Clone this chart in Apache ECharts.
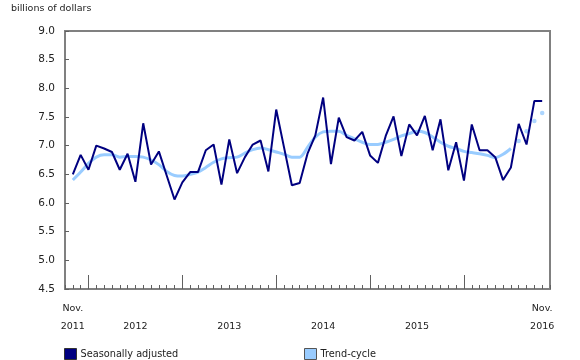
<!DOCTYPE html>
<html>
<head>
<meta charset="utf-8">
<script src="https://cdn.jsdelivr.net/npm/echarts@6/dist/echarts.min.js"></script>
<style>html,body{margin:0;padding:0;background:#fff}#c{width:580px;height:360px}</style>
</head>
<body>
<div id="c"></div>
<script>
// Monthly categories, Nov. 2011 to Nov. 2016
const months = [];
for (let y = 2011, m = 11; months.length < 61; m++) {
  if (m > 12) { m = 1; y++; }
  months.push(y + '-' + String(m).padStart(2, '0'));
}
// Seasonally adjusted (billions of dollars)
const seasonallyAdjusted = [
  6.50, 6.84, 6.58, 7.00, 6.95, 6.89, 6.58, 6.86, 6.37, 7.39, 6.67, 6.90, 6.48, 6.06,
  6.36, 6.54, 6.54, 6.92, 7.02, 6.32, 7.11, 6.52, 6.80, 7.02, 7.09, 6.55,
  7.63, 6.97, 6.31, 6.35, 6.86, 7.18, 7.84, 6.68, 7.49, 7.15, 7.09, 7.24,
  6.83, 6.70, 7.17, 7.51, 6.82, 7.37, 7.18, 7.52, 6.92, 7.46, 6.57, 7.06,
  6.39, 7.37, 6.92, 6.92, 6.80, 6.40, 6.62, 7.38, 7.02, 7.78, 7.78
];
// Trend-cycle (billions of dollars); the last 4 months are shown as dots
const trendCycle = [
  6.40, 6.54, 6.69, 6.80, 6.84, 6.84, 6.80, 6.81, 6.81, 6.80, 6.75, 6.67, 6.55, 6.48,
  6.47, 6.50, 6.54, 6.62, 6.71, 6.77, 6.79, 6.80, 6.87, 6.93, 6.96, 6.93,
  6.89, 6.85, 6.80, 6.80, 6.97, 7.15, 7.24, 7.25, 7.25, 7.18, 7.12, 7.06,
  7.02, 7.02, 7.06, 7.11, 7.17, 7.21, 7.25, 7.23, 7.15, 7.06, 6.99, 6.95,
  6.90, 6.88, 6.86, 6.83, 6.79, 6.85, 6.95, 7.08, 7.25, 7.43, 7.57
];
const preliminaryCount = 4;
// Tick labels on the time axis
const tickLabels = {
  '2011-11': 'Nov.\n2011', '2012-07': '\n2012', '2013-07': '\n2013',
  '2014-07': '\n2014', '2015-07': '\n2015', '2016-11': 'Nov.\n2016'
};
const yTicks = { min: 4.5, max: 9.0, step: 0.5 };
const unitLabel = 'billions of dollars';

// padded category axis (one empty slot either side)
const cats = [''].concat(months, ['']);
const pad = arr => [null].concat(arr, [null]);
const n = trendCycle.length;
const trendSolid = trendCycle.map((v, i) => i < n - preliminaryCount ? v : null);
const trendDots = trendCycle.map((v, i) => i >= n - preliminaryCount ? v : null);

const FONT = 'DejaVu Sans';
const chart = echarts.init(document.getElementById('c'), null, { renderer: 'canvas' });
chart.setOption({
  animation: false,
  title: {
    text: unitLabel, left: 6, top: -1,
    textStyle: { fontFamily: FONT, fontSize: 9.5, fontWeight: 'normal', color: '#222' }
  },
  grid: {
    left: 65, right: 30, top: 31, bottom: 71,
    show: true, borderColor: '#808080', borderWidth: 2, backgroundColor: 'transparent'
  },
  xAxis: [
    {
      type: 'category', data: cats, boundaryGap: false, position: 'bottom',
      axisLine: { show: true, lineStyle: { color: '#808080', width: 2 } },
      axisTick: { show: true, inside: true, length: 4, interval: 0, lineStyle: { color: '#606060', width: 1 } },
      axisLabel: {
        interval: (i, v) => tickLabels[v] !== undefined,
        formatter: v => tickLabels[v] || '',
        fontFamily: FONT, fontSize: 9.5, color: '#222', lineHeight: 18, margin: 11
      },
      splitLine: { show: false }
    },
    {
      type: 'category', data: cats, boundaryGap: false, position: 'bottom',
      axisLine: { show: false },
      axisTick: {
        show: true, inside: true, length: 14,
        interval: (i, v) => v.endsWith('-01'),
        lineStyle: { color: '#606060', width: 1 }
      },
      axisLabel: { show: false },
      splitLine: { show: false }
    }
  ],
  yAxis: {
    type: 'value', min: yTicks.min, max: yTicks.max, interval: yTicks.step,
    axisLine: { show: true, lineStyle: { color: '#808080', width: 2 } },
    axisTick: { show: true, inside: true, length: 4, lineStyle: { color: '#606060', width: 1 } },
    axisLabel: { formatter: v => v.toFixed(1), fontFamily: FONT, fontSize: 10.5, color: '#222', margin: 10 },
    splitLine: { show: false }
  },
  legend: [
    {
      data: ['Seasonally adjusted'], left: 59, top: 343, icon: 'rect', itemWidth: 12, itemHeight: 11, itemGap: 4,
      itemStyle: { borderColor: '#333', borderWidth: 1 },
      textStyle: { fontFamily: FONT, fontSize: 9.75, color: '#222', padding: [0, 0, 0, -1] }
    },
    {
      data: ['Trend-cycle'], left: 299, top: 343, icon: 'rect', itemWidth: 12, itemHeight: 11, itemGap: 4,
      itemStyle: { borderColor: '#555', borderWidth: 1 },
      textStyle: { fontFamily: FONT, fontSize: 9.75, color: '#222', padding: [0, 0, 0, -1] }
    }
  ],
  series: [
    {
      name: 'Trend-cycle', type: 'line', data: pad(trendSolid), smooth: 0.3,
      showSymbol: false, symbol: 'none', color: '#99CCFF',
      lineStyle: { color: '#99CCFF', width: 3 }, z: 2
    },
    {
      name: 'Trend-cycle prelim', type: 'scatter', data: pad(trendDots),
      symbol: 'circle', symbolSize: 4.5, itemStyle: { color: '#99CCFF' }, z: 2
    },
    {
      name: 'Seasonally adjusted', type: 'line', data: pad(seasonallyAdjusted),
      showSymbol: false, symbol: 'none', color: '#000080',
      lineStyle: { color: '#000080', width: 2 }, z: 3
    }
  ]
});
</script>
</body>
</html>
